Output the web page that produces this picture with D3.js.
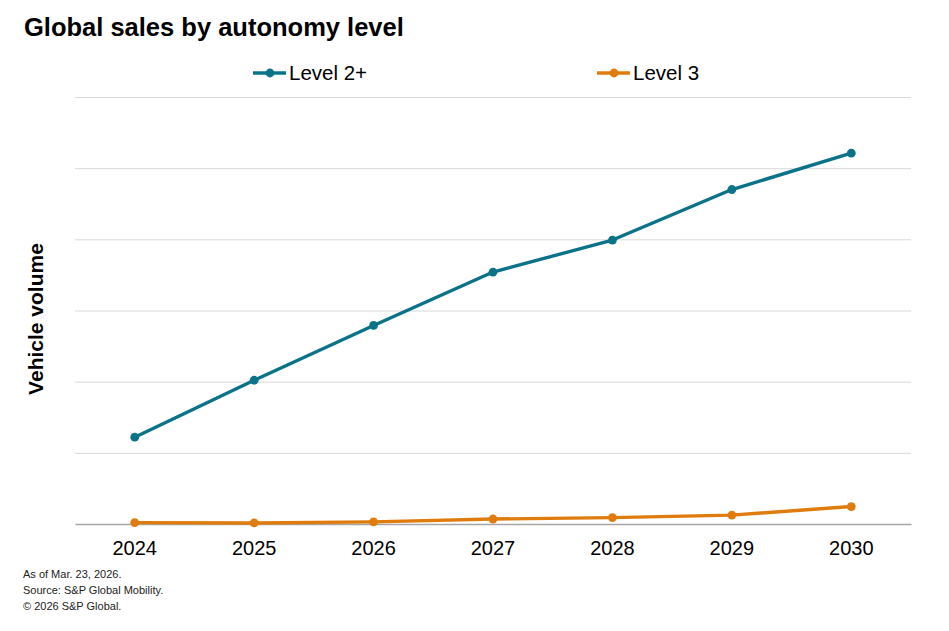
<!DOCTYPE html>
<html lang="en">
  <head>
    <meta charset="UTF-8">
    <title>Global sales by autonomy level</title>
    <style>
      body { margin: 0; background: #fff; }
      text { font-family: "Liberation Sans", Arial, sans-serif; }
    </style>
  </head>
  <body>
    <div id="chart-container"></div>
    <script src="https://d3js.org/d3.v7.min.js"></script>
    <script>
      // data (no y tick labels, so units are gridline steps)
      const years = ["2024", "2025", "2026", "2027", "2028", "2029", "2030"];
      const level2plus = [1.22, 2.02, 2.79, 3.54, 3.99, 4.70, 5.21];
      const level3 = [0.02, 0.015, 0.03, 0.07, 0.09, 0.125, 0.245];
      const seriesNames = ["Level 2+", "Level 3"];
      const seriesColors = ["#0b7389", "#e07c0e"];
      const footnotes = ["As of Mar. 23, 2026.", "Source: S&P Global Mobility.", "\u00a9 2026 S&P Global."];

      const W = 949, H = 631;
      const margin = { top: 97, right: 38, bottom: 107, left: 75 };
      const width = W - margin.left - margin.right;
      const height = H - margin.top - margin.bottom;

      const svg = d3.select("#chart-container")
        .append("svg")
        .attr("width", W)
        .attr("height", H);

      // title
      svg.append("text")
        .attr("x", 24)
        .attr("y", 36)
        .style("font-size", "25.5px")
        .style("font-weight", "bold")
        .style("fill", "#000")
        .text("Global sales by autonomy level");

      const g = svg.append("g")
        .attr("transform", "translate(" + margin.left + "," + margin.top + ")");

      const x = d3.scaleBand().domain(years).range([0, width]).padding(0);
      const y = d3.scaleLinear().domain([0, 6]).range([height, 0]);

      // gridlines
      g.append("g")
        .call(d3.axisLeft(y).ticks(6).tickSize(-width).tickFormat(""))
        .call(a => a.select(".domain").remove())
        .call(a => a.selectAll(".tick line")
          .attr("stroke", "#d9d9d9")
          .attr("stroke-width", 1)
          .filter(d => d === 0).remove());

      // x axis
      const xAxis = g.append("g")
        .attr("transform", "translate(0," + height + ")")
        .call(d3.axisBottom(x).tickSize(0).tickPadding(17));
      xAxis.select(".domain").attr("stroke", "#a6a6a6").attr("stroke-width", 1.3);
      xAxis.selectAll("text")
        .style("font-size", "20px")
        .style("fill", "#000");

      // y label
      svg.append("text")
        .attr("transform", "rotate(-90)")
        .attr("x", -319)
        .attr("y", 43)
        .attr("text-anchor", "middle")
        .style("font-size", "21px")
        .style("font-weight", "bold")
        .style("fill", "#000")
        .text("Vehicle volume");

      const line = d3.line()
        .x((d, i) => x(years[i]) + x.bandwidth() / 2)
        .y(d => y(d));

      const allSeries = [level2plus, level3];
      allSeries.forEach((vals, s) => {
        g.append("path")
          .datum(vals)
          .attr("fill", "none")
          .attr("stroke", seriesColors[s])
          .attr("stroke-width", 3.4)
          .attr("stroke-linejoin", "round")
          .attr("d", line);

        g.append("g")
          .selectAll("circle")
          .data(vals).enter()
          .append("circle")
          .attr("cx", (d, i) => x(years[i]) + x.bandwidth() / 2)
          .attr("cy", d => y(d))
          .attr("r", 4.4)
          .attr("fill", seriesColors[s]);
      });

      // legend
      const legendX = [253, 597];
      seriesNames.forEach((name, s) => {
        const lg = svg.append("g").attr("transform", "translate(" + legendX[s] + ",73)");
        lg.append("line")
          .attr("x1", 0).attr("x2", 33)
          .attr("stroke", seriesColors[s])
          .attr("stroke-width", 3.4);
        lg.append("circle")
          .attr("cx", 17).attr("r", 4.4)
          .attr("fill", seriesColors[s]);
        lg.append("text")
          .attr("x", 36)
          .attr("dy", "0.35em")
          .style("font-size", "20.5px")
          .style("fill", "#000")
          .text(name);
      });

      // footnotes
      svg.append("g")
        .selectAll("text")
        .data(footnotes).enter()
        .append("text")
        .attr("x", 23)
        .attr("y", (d, i) => 578 + i * 16)
        .style("font-size", "11px")
        .style("fill", "#222")
        .text(d => d);
    </script>
  </body>
</html>
